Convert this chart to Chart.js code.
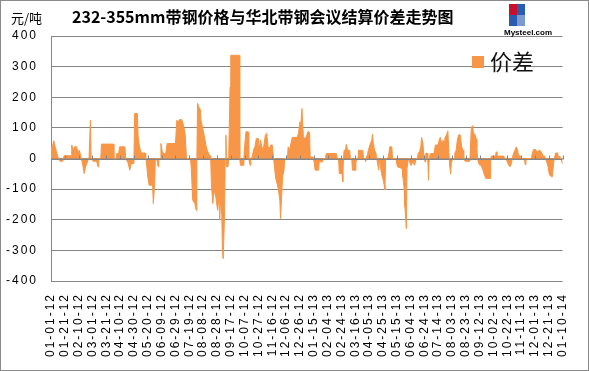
<!DOCTYPE html>
<html><head><meta charset="utf-8">
<script src="https://cdn.jsdelivr.net/npm/chart.js@4.4.0/dist/chart.umd.min.js"></script>
<style>html,body{margin:0;padding:0;background:#fff}#wrap{width:589px;height:371px;position:relative}</style>
</head><body><div id="wrap"><canvas id="c" width="589" height="371"></canvas></div>
<script>
const titleText = '232-355mm带钢价格与华北带钢会议结算价差走势图';
const unitText = '元/吨';
const seriesName = '价差';
const tickLabels = ['01-01-12','01-21-12','02-10-12','03-01-12','03-21-12','04-10-12','04-30-12','05-20-12','06-09-12','06-29-12','07-19-12','08-08-12','08-28-12','09-17-12','10-07-12','10-27-12','11-16-12','12-06-12','12-26-12','01-15-13','02-04-13','02-24-13','03-16-13','04-05-13','04-25-13','05-15-13','06-04-13','06-24-13','07-14-13','08-03-13','08-23-13','09-12-13','10-02-13','10-22-13','11-11-13','12-01-13','12-21-13','01-10-14'];
// day offset from 01-01-12
const days = [0,2,4,6,8,10,11,13,17,18,19,29,30,32,34,37,39,41,43,44,46,48,50,51,53,55,56,57,58,61,66,68,69,72,73,90,91,94,95,98,99,107,108,109,111,114,116,119,120,121,125,126,128,130,131,136,137,138,140,142,145,147,148,150,151,153,155,156,158,159,161,163,166,168,180,182,184,186,189,191,194,196,200,202,203,205,208,210,211,212,214,216,217,219,222,224,226,228,230,231,232,234,235,237,239,241,243,244,246,247,248,249,251,252,253,254,256,257,259,260,272,273,274,278,279,280,282,285,286,288,289,291,293,295,297,300,301,303,305,307,309,310,312,314,316,318,320,322,323,325,327,329,331,332,334,335,337,338,342,343,345,347,349,356,358,360,361,363,365,367,369,372,374,375,376,379,381,382,387,388,393,394,397,398,413,414,416,417,421,422,423,424,426,427,429,432,433,435,436,440,441,442,444,445,447,448,449,451,452,454,455,456,458,459,462,464,465,466,468,470,471,472,474,475,476,478,480,482,483,484,486,488,490,493,494,499,501,508,509,511,512,514,515,517,518,520,521,523,526,528,530,531,533,535,536,538,539,540,541,542,544,545,546,547,549,554,556,560,562,563,565,567,569,570,572,574,576,577,578,579,581,583,584,586,588,590,592,594,596,597,599,605,606,608,610,611,613,615,616,617,618,620,622,624,627,629,635,636,637,643,644,645,655,656,658,660,662,664,666,667,669,671,673,675,676,679,680,683,685,686,687,695,696,698,701,703,707,709,712,714,715,717,719,721,725,727,728,730,733,734,736,738,740];
const values = [38,38,58,38,22,5,0,-9,-9,0,9,9,44,27,38,38,22,27,8,0,-22,-49,-27,-22,-8,0,0,125,0,-9,-9,-27,0,0,47,47,0,0,16,16,38,38,0,-5,-11,-38,-16,-16,0,147,147,71,38,22,18,18,0,-11,-60,-87,-87,-90,-147,-82,0,0,-27,0,0,49,22,16,16,49,49,125,120,127,127,114,82,0,0,-5,-38,-136,-147,-169,0,180,167,160,125,103,71,44,27,16,9,0,-82,-147,-125,-103,-136,-169,-125,-200,-103,-180,-300,-327,-190,0,76,-27,-27,0,234,337,337,0,-22,-22,0,38,87,87,0,-22,0,5,29,38,65,65,27,60,38,29,60,76,82,38,33,44,44,0,-22,-65,-82,-103,-136,-196,-103,-60,-38,0,0,38,27,49,69,69,82,120,98,163,71,65,70,89,85,0,5,5,-16,-38,-38,-11,-11,0,0,16,16,0,0,-49,-49,-76,0,27,27,46,27,27,0,0,-38,-38,-16,0,0,27,27,0,27,27,0,0,-11,0,16,27,49,60,80,54,27,18,0,-11,-38,0,-16,-49,-65,-87,-103,0,0,5,38,38,0,0,-27,-33,-60,-103,-158,-229,-33,0,0,-22,-22,-11,-22,0,0,16,22,38,69,49,16,0,-11,16,18,0,-71,0,16,16,44,44,65,69,49,60,44,69,76,90,0,-27,-51,-16,0,0,16,27,65,78,76,38,27,0,-9,-9,0,103,107,82,80,65,38,0,-11,-22,-22,-33,-54,-65,-65,0,8,8,22,8,8,0,0,-11,-22,-27,-16,0,16,27,38,27,11,8,0,0,-5,-20,0,0,16,29,29,22,27,22,8,8,0,-11,-27,-54,-60,-16,0,18,18,0,8,-5,-18];

const ORANGE = '#F79646';
const GRID = '#868686';
const points = days.map((d, i) => ({x: d, y: values[i]}));

const decor = {
  id: 'decor',
  beforeDraw(chart) {
    const ctx = chart.ctx;
    ctx.save();
    ctx.fillStyle = '#fff';
    ctx.fillRect(0, 0, chart.width, chart.height);
    ctx.restore();
    ctx.letterSpacing = '2px';
  },
  afterDatasetsDraw(chart) {
    const ctx = chart.ctx, xs = chart.scales.x, ys = chart.scales.y;
    const y0 = Math.round(ys.getPixelForValue(0)) + 0.5;
    ctx.save();
    ctx.strokeStyle = GRID; ctx.lineWidth = 1;
    ctx.beginPath();
    ctx.moveTo(chart.chartArea.left, y0); ctx.lineTo(chart.chartArea.right, y0);
    for (let i = 1; i < tickLabels.length; i++) {
      const x = Math.round(xs.getPixelForValue(i * 20)) + 0.5;
      ctx.moveTo(x, y0 - 4); ctx.lineTo(x, y0);
    }
    ctx.stroke();
    ctx.restore();
  },
  afterDraw(chart) {
    const ctx = chart.ctx;
    ctx.save();
    ctx.letterSpacing = '0px';
    // frame
    ctx.strokeStyle = '#8a8a8a'; ctx.lineWidth = 1;
    ctx.strokeRect(0.5, 0.5, chart.width - 1, chart.height - 1);
    // title
    ctx.fillStyle = '#000';
    ctx.textBaseline = 'middle';
    ctx.textAlign = 'left';
    ctx.font = 'bold 16px "Noto Sans CJK SC", sans-serif';
    ctx.fillText(titleText, 72, 17);
    ctx.font = '13px "Noto Sans CJK SC", sans-serif';
    ctx.fillText(unitText, 11, 18);
    // legend
    ctx.fillStyle = ORANGE;
    ctx.fillRect(472, 56, 12, 12);
    ctx.fillStyle = '#111';
    ctx.font = '22px "Noto Sans CJK SC", sans-serif';
    ctx.fillText(seriesName, 490, 62);
    // logo
    ctx.fillStyle = '#c8102e'; ctx.fillRect(509, 4, 8, 11);
    ctx.fillStyle = '#2a5db0'; ctx.fillRect(517, 4, 8, 11);
    ctx.fillStyle = '#2a5db0'; ctx.fillRect(509, 15, 8, 11);
    ctx.fillStyle = '#7b9bd0'; ctx.fillRect(517, 15, 8, 11);
    ctx.fillStyle = '#000';
    ctx.font = 'bold 8px "Liberation Sans", sans-serif';
    ctx.fillText('Mysteel.com', 504, 33);
    ctx.restore();
  }
};

new Chart(document.getElementById('c'), {
  type: 'line',
  data: { datasets: [{ label: seriesName, data: points, fill: 'origin', backgroundColor: ORANGE, borderColor: ORANGE, borderWidth: 1, pointRadius: 0, tension: 0 }] },
  options: {
    responsive: false, animation: false, devicePixelRatio: 1,
    layout: { padding: { top: 36, right: 16, left: 0, bottom: 0 } },
    plugins: { legend: { display: false }, title: { display: false }, tooltip: { enabled: false } },
    scales: {
      x: {
        type: 'linear', min: 0, max: 740,
        afterFit: s => { s.height = 90; },
        afterBuildTicks: s => { s.ticks = tickLabels.map((_, i) => ({ value: i * 20 })); },
        grid: { display: false, drawTicks: false },
        border: { display: false },
        ticks: { autoSkip: false, maxRotation: 90, minRotation: 90, padding: 12,
          font: { family: '"Liberation Sans", Arial, sans-serif', size: 12 }, color: '#000',
          callback: v => tickLabels[Math.round(v / 20)] }
      },
      y: {
        min: -400, max: 400,
        afterFit: s => { s.width = 51; },
        grid: { color: GRID, lineWidth: 1, drawTicks: false },
        border: { display: true, color: GRID },
        ticks: { stepSize: 100, padding: 13, font: { family: '"Liberation Sans", Arial, sans-serif', size: 12 }, color: '#000' }
      }
    }
  },
  plugins: [decor]
});
</script></body></html>
